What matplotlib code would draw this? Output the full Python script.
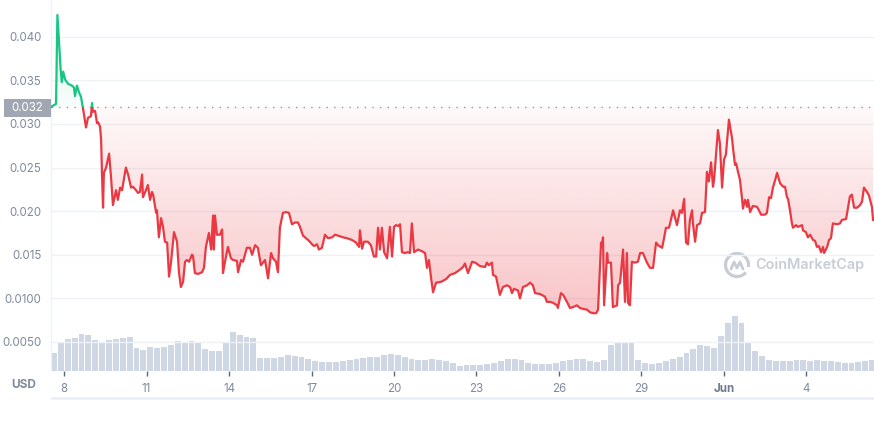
import numpy as np
import matplotlib
matplotlib.use("Agg")
import matplotlib.pyplot as plt
from matplotlib.path import Path
from matplotlib.patches import Rectangle, Arc

plt.rcParams['font.family'] = ['Inter', 'DejaVu Sans']

# ---------------- data (day of May; 32 = Jun 1) ----------------
days = [7.49, 7.71, 7.76, 7.88, 7.92, 7.97, 8.04, 8.15, 8.29, 8.36, 8.40, 8.47, 8.55, 8.62, 8.69, 8.80, 8.87, 8.98, 9.02, 9.05,
        9.13, 9.20, 9.24, 9.31, 9.35, 9.38, 9.42, 9.45, 9.53, 9.64, 9.71, 9.78, 9.89, 9.96, 10.04, 10.11, 10.25, 10.33, 10.44, 10.51,
        10.62, 10.69, 10.76, 10.84, 10.87, 10.98, 11.05, 11.13, 11.20, 11.24, 11.35, 11.38, 11.45, 11.53, 11.60, 11.67, 11.75, 11.82, 11.89, 12.00,
        12.11, 12.18, 12.25, 12.33, 12.40, 12.47, 12.55, 12.65, 12.69, 12.76, 12.87, 13.02, 13.09, 13.16, 13.27, 13.35, 13.42, 13.45, 13.49, 13.56,
        13.67, 13.75, 13.78, 13.89, 13.96, 14.07, 14.15, 14.29, 14.33, 14.44, 14.51, 14.65, 14.76, 14.84, 14.95, 15.05, 15.16, 15.31, 15.42, 15.53,
        15.60, 15.71, 15.78, 15.85, 15.96, 16.07, 16.18, 16.29, 16.40, 16.51, 16.58, 16.69, 16.80, 16.91, 17.02, 17.09, 17.20, 17.27, 17.38, 17.49,
        17.60, 17.75, 17.85, 17.96, 18.15, 18.29, 18.47, 18.62, 18.73, 18.76, 18.84, 18.91, 19.05, 19.16, 19.27, 19.35, 19.42, 19.49, 19.56, 19.64,
        19.75, 19.85, 19.93, 20.00, 20.07, 20.15, 20.22, 20.29, 20.40, 20.51, 20.58, 20.65, 20.73, 20.87, 21.02, 21.13, 21.20, 21.27, 21.35, 21.42,
        21.53, 21.71, 21.89, 22.04, 22.22, 22.40, 22.51, 22.58, 22.69, 22.84, 22.95, 23.13, 23.31, 23.38, 23.45, 23.56, 23.60, 23.71, 23.85, 23.96,
        24.11, 24.22, 24.29, 24.36, 24.51, 24.58, 24.69, 24.84, 24.95, 25.05, 25.13, 25.31, 25.49, 25.56, 25.67, 25.78, 25.93, 25.96, 26.07, 26.15,
        26.29, 26.40, 26.51, 26.65, 26.76, 26.87, 27.02, 27.13, 27.24, 27.35, 27.42, 27.53, 27.56, 27.60, 27.64, 27.75, 27.78, 27.89, 27.96, 28.11,
        28.15, 28.22, 28.33, 28.40, 28.47, 28.51, 28.58, 28.65, 28.76, 28.87, 28.95, 29.05, 29.20, 29.31, 29.42, 29.53, 29.60, 29.75, 29.82, 29.89,
        30.00, 30.07, 30.15, 30.29, 30.40, 30.47, 30.55, 30.62, 30.69, 30.76, 30.84, 30.87, 30.95, 31.02, 31.13, 31.20, 31.31, 31.38, 31.45, 31.53,
        31.60, 31.64, 31.78, 31.85, 31.93, 32.00, 32.07, 32.18, 32.29, 32.33, 32.40, 32.44, 32.51, 32.58, 32.65, 32.69, 32.76, 32.84, 32.87, 32.95,
        33.05, 33.20, 33.27, 33.35, 33.49, 33.56, 33.64, 33.71, 33.78, 33.89, 33.93, 34.04, 34.15, 34.22, 34.29, 34.33, 34.40, 34.47, 34.51, 34.62,
        34.69, 34.84, 34.87, 34.98, 35.05, 35.13, 35.24, 35.31, 35.38, 35.45, 35.53, 35.60, 35.64, 35.75, 35.82, 35.89, 35.96, 36.11, 36.22, 36.29,
        36.44, 36.51, 36.58, 36.65, 36.73, 36.84, 36.95, 37.02, 37.09, 37.20, 37.27, 37.38, 37.42]

prices = [0.0319, 0.0323, 0.0425, 0.0362, 0.0348, 0.0360, 0.0351, 0.0346, 0.0344, 0.0342, 0.0332, 0.0344, 0.0336, 0.0331, 0.0318, 0.0296, 0.0307, 0.0309, 0.0324, 0.0314,
          0.0315, 0.0301, 0.0302, 0.0297, 0.0282, 0.0244, 0.0204, 0.0244, 0.0250, 0.0266, 0.0239, 0.0207, 0.0224, 0.0213, 0.0227, 0.0224, 0.0250, 0.0242, 0.0227, 0.0228,
          0.0224, 0.0221, 0.0222, 0.0242, 0.0216, 0.0224, 0.0230, 0.0213, 0.0222, 0.0219, 0.0198, 0.0201, 0.0170, 0.0192, 0.0182, 0.0165, 0.0164, 0.0125, 0.0141, 0.0176,
          0.0165, 0.0130, 0.0113, 0.0119, 0.0142, 0.0144, 0.0142, 0.0150, 0.0149, 0.0129, 0.0128, 0.0130, 0.0135, 0.0159, 0.0175, 0.0156, 0.0195, 0.0156, 0.0195, 0.0173,
          0.0173, 0.0179, 0.0129, 0.0148, 0.0159, 0.0146, 0.0144, 0.0143, 0.0130, 0.0144, 0.0142, 0.0158, 0.0158, 0.0150, 0.0161, 0.0158, 0.0138, 0.0144, 0.0123, 0.0152,
          0.0146, 0.0142, 0.0130, 0.0181, 0.0198, 0.0199, 0.0198, 0.0185, 0.0187, 0.0187, 0.0182, 0.0172, 0.0169, 0.0166, 0.0162, 0.0160, 0.0162, 0.0156, 0.0158, 0.0173,
          0.0169, 0.0170, 0.0173, 0.0172, 0.0170, 0.0169, 0.0167, 0.0164, 0.0159, 0.0178, 0.0157, 0.0165, 0.0165, 0.0161, 0.0148, 0.0148, 0.0181, 0.0156, 0.0181, 0.0153,
          0.0146, 0.0182, 0.0148, 0.0182, 0.0184, 0.0183, 0.0185, 0.0153, 0.0152, 0.0153, 0.0152, 0.0186, 0.0153, 0.0156, 0.0154, 0.0152, 0.0135, 0.0144, 0.0123, 0.0107,
          0.0118, 0.0119, 0.0122, 0.0127, 0.0129, 0.0133, 0.0136, 0.0140, 0.0129, 0.0142, 0.0141, 0.0137, 0.0136, 0.0141, 0.0138, 0.0141, 0.0127, 0.0125, 0.0104, 0.0113,
          0.0115, 0.0113, 0.0106, 0.0111, 0.0109, 0.0100, 0.0113, 0.0115, 0.0118, 0.0115, 0.0106, 0.0105, 0.0102, 0.0096, 0.0096, 0.0095, 0.0092, 0.0089, 0.0106, 0.0104,
          0.0096, 0.0089, 0.0090, 0.0092, 0.0089, 0.0088, 0.0087, 0.0084, 0.0083, 0.0083, 0.0087, 0.0164, 0.0159, 0.0170, 0.0092, 0.0152, 0.0141, 0.0141, 0.0090, 0.0092,
          0.0115, 0.0118, 0.0156, 0.0096, 0.0152, 0.0095, 0.0092, 0.0142, 0.0141, 0.0142, 0.0152, 0.0152, 0.0141, 0.0135, 0.0135, 0.0164, 0.0161, 0.0158, 0.0169, 0.0181,
          0.0181, 0.0190, 0.0201, 0.0184, 0.0201, 0.0198, 0.0214, 0.0164, 0.0162, 0.0190, 0.0201, 0.0186, 0.0165, 0.0184, 0.0186, 0.0198, 0.0199, 0.0245, 0.0234, 0.0256,
          0.0228, 0.0236, 0.0293, 0.0278, 0.0227, 0.0259, 0.0265, 0.0305, 0.0284, 0.0272, 0.0253, 0.0255, 0.0245, 0.0236, 0.0216, 0.0203, 0.0213, 0.0205, 0.0213, 0.0199,
          0.0206, 0.0205, 0.0201, 0.0196, 0.0196, 0.0198, 0.0216, 0.0215, 0.0227, 0.0239, 0.0244, 0.0232, 0.0228, 0.0228, 0.0216, 0.0214, 0.0201, 0.0186, 0.0181, 0.0184,
          0.0182, 0.0184, 0.0178, 0.0176, 0.0170, 0.0173, 0.0167, 0.0166, 0.0159, 0.0160, 0.0153, 0.0159, 0.0152, 0.0159, 0.0167, 0.0169, 0.0186, 0.0185, 0.0186, 0.0190,
          0.0191, 0.0204, 0.0217, 0.0219, 0.0204, 0.0204, 0.0207, 0.0211, 0.0227, 0.0222, 0.0218, 0.0205, 0.0190]

# volume, 6-hour bars starting May 7.53 (millions USD, estimated)
vol_start = 7.53
vol_step = 0.25
volumes = [1.8, 2.8, 3.2, 3.3, 3.7, 3.6, 3.1, 2.8, 3.1, 3.2, 3.3, 3.4, 2.3, 2.1, 2.4, 2.3, 2.4, 2.6, 3.0, 2.9,
           3.0, 2.9, 2.2, 2.0, 2.0, 2.8, 3.9, 3.6, 3.4, 3.3, 1.3, 1.3, 1.3, 1.4, 1.6, 1.5, 1.4, 1.2, 1.0, 0.9,
           0.9, 0.9, 1.0, 1.1, 1.2, 1.3, 1.4, 1.4, 1.6, 1.7, 1.6, 1.4, 1.2, 1.1, 1.1, 1.2, 1.1, 1.0, 0.8, 0.5,
           0.6, 0.6, 0.6, 0.7, 0.8, 1.0, 1.2, 1.2, 1.1, 0.8, 0.7, 0.7, 0.7, 0.8, 1.0, 1.1, 1.2, 1.2, 1.0, 0.9,
           1.1, 2.6, 2.8, 2.9, 2.8, 1.1, 0.8, 0.7, 0.8, 1.0, 1.2, 1.4, 1.8, 2.2, 2.6, 2.5, 2.3, 3.5, 4.8, 5.5,
           4.8, 2.8, 2.0, 1.5, 1.1, 1.0, 1.0, 1.0, 1.1, 1.1, 1.0, 1.1, 1.0, 1.0, 0.9, 0.8, 0.8, 0.9, 1.0, 1.1]

baseline = 0.032
ytick_vals = [0.0050, 0.0100, 0.015, 0.020, 0.025, 0.030, 0.035, 0.040]
ytick_labels = ["0.0050", "0.0100", "0.015", "0.020", "0.025", "0.030", "0.035", "0.040"]
xtick_vals = [8, 11, 14, 17, 20, 23, 26, 29, 32, 35]
xtick_labels = ["8", "11", "14", "17", "20", "23", "26", "29", "Jun", "4"]

# ---------------- styling ----------------
W, H = 874, 421
GREEN = "#16c784"
RED = "#ea3943"
GRID = "#eff2f5"
LABEL = "#808a9d"

fig = plt.figure(figsize=(W / 100, H / 100), dpi=100)
fig.patch.set_facecolor("white")

rect = [51 / W, 50 / H, (874 - 51) / W, 371 / H]
vax = fig.add_axes(rect)
ax = fig.add_axes(rect)
ax.set_zorder(2)
vax.set_zorder(1)
ax.patch.set_visible(False)

xlim = (7.527, 37.455)
ylim = (0.00167, 0.04422)

t = np.array(days)
p = np.array(prices)

# volume bars
vx = vol_start + vol_step * np.arange(len(volumes))
vax.bar(vx, volumes, width=vol_step * 0.86, align="edge", color="#cfd6e4", linewidth=0)
vax.set_xlim(*xlim)
vax.set_ylim(0, 37.1)
vax.axis("off")

# grid
for v in ytick_vals:
    ax.axhline(v, color=GRID, lw=1.0, zorder=0)

# gradient fill between price and baseline
N = 500
yy = np.linspace(ylim[0], ylim[1], N)
img = np.zeros((N, 1, 4))
red_rgb = matplotlib.colors.to_rgb(RED)
green_rgb = matplotlib.colors.to_rgb(GREEN)
for i, v in enumerate(yy):
    if v < baseline:
        a = 0.03 + min(1.0, (baseline - v) / (baseline - 0.008)) * 0.27
        img[i, 0, :3] = red_rgb
    else:
        a = 0.03 + min(1.0, (v - baseline) / (0.043 - baseline)) * 0.15
        img[i, 0, :3] = green_rgb
    img[i, 0, 3] = a
im = ax.imshow(img, extent=[xlim[0], xlim[1], ylim[0], ylim[1]], origin="lower",
               aspect="auto", interpolation="bilinear", zorder=1)
verts = [(t[0], baseline)] + list(zip(t, p)) + [(t[-1], baseline), (t[0], baseline)]
clip = Path(verts, closed=True)
im.set_clip_path(clip, ax.transData)

# baseline dotted
ax.axhline(baseline, color="#8f98a8", lw=1.0, ls=(0, (1, 4.5)), zorder=3)

# price line, coloured above/below baseline
above = Path([(xlim[0] - 5, baseline), (xlim[1] + 5, baseline), (xlim[1] + 5, 1), (xlim[0] - 5, 1), (xlim[0] - 5, baseline)], closed=True)
below = Path([(xlim[0] - 5, -1), (xlim[1] + 5, -1), (xlim[1] + 5, baseline), (xlim[0] - 5, baseline), (xlim[0] - 5, -1)], closed=True)
lg, = ax.plot(t, p, color=GREEN, lw=1.6, zorder=4, solid_joinstyle="round")
lr, = ax.plot(t, p, color=RED, lw=1.6, zorder=4, solid_joinstyle="round")
lg.set_clip_path(above, ax.transData)
lr.set_clip_path(below, ax.transData)

ax.set_xlim(*xlim)
ax.set_ylim(*ylim)

ax.set_yticks(ytick_vals)
ax.set_yticklabels(ytick_labels)
ax.tick_params(axis="y", length=0, pad=7, labelsize=8.3, labelcolor=LABEL)
ax.set_xticks(xtick_vals)
ax.set_xticklabels(xtick_labels)
ax.tick_params(axis="x", length=3.5, width=1, color="#58667e", pad=5, labelsize=8.3, labelcolor=LABEL)
for lab in ax.get_xticklabels():
    if lab.get_text() == "Jun":
        lab.set_fontweight("bold")
        lab.set_color("#6f7a8e")

for s in ["top", "right", "bottom"]:
    ax.spines[s].set_visible(False)
ax.spines["left"].set_color(GRID)
ax.spines["left"].set_linewidth(1)

# USD label
fig.text(24 / W, 1 - 385 / H, "USD", ha="center", va="center", fontsize=8.5,
         fontweight="bold", color=LABEL)

# current price tag
fig.patches.append(Rectangle((4 / W, 1 - 117 / H), 47 / W, 18 / H, transform=fig.transFigure,
                             facecolor="#a0a7b3", edgecolor="none", zorder=5))
fig.text(27.5 / W, 1 - 108 / H, "0.032", ha="center", va="center", fontsize=8.3,
         color="white", zorder=6)

# bottom navigator line
fig.add_artist(plt.Line2D([52 / W, 1.0], [1 - 398 / H, 1 - 398 / H], transform=fig.transFigure,
                          color="#e8eef7", lw=1.8))

# watermark
wm_color = "#c8cdd5"
fig.text(755 / W, 1 - 265 / H, "CoinMarketCap", ha="left", va="center", fontsize=10.4,
         fontweight="semibold", color=wm_color, zorder=6)
cx, cy = 737, 265
fig.add_artist(Arc((cx / W, 1 - cy / H), 23 / W, 23 / H, theta1=-20, theta2=300,
                   transform=fig.transFigure, color=wm_color, lw=2.3))
mx = np.array([cx - 6, cx - 3, cx, cx + 3, cx + 6])
my = np.array([cy + 4, cy - 3, cy + 3, cy - 3, cy + 4])
fig.add_artist(plt.Line2D(mx / W, 1 - my / H, transform=fig.transFigure, color=wm_color, lw=2.0,
                          solid_joinstyle="round", solid_capstyle="round"))

fig.savefig("out.png", dpi=100, facecolor="white")
